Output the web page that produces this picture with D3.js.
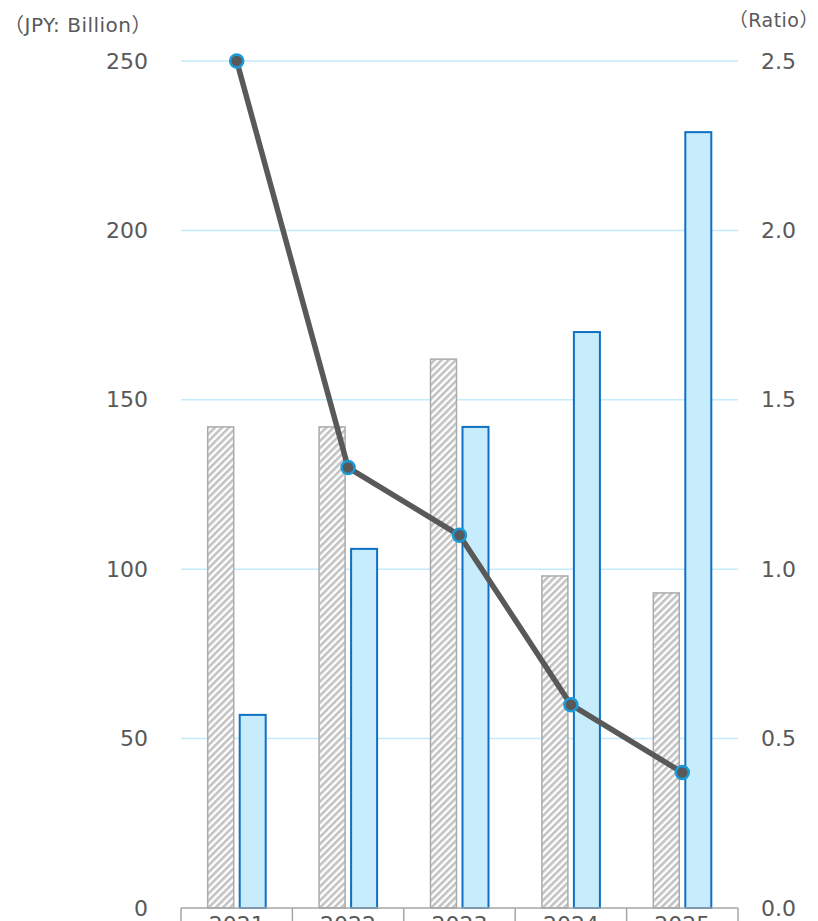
<!DOCTYPE html>
<html>
<head>
<meta charset="utf-8">
<script src="https://cdn.jsdelivr.net/npm/d3@7/dist/d3.min.js"></script>
<style>
  html, body { margin: 0; padding: 0; background: #fff; }
  svg { display: block; }
  text { font-family: "DejaVu Sans", "Noto Sans CJK JP", sans-serif; fill: #595959; }
  .cjk { font-family: "Noto Sans CJK JP", sans-serif; }
</style>
</head>
<body>
<svg id="chart" width="818" height="921"></svg>
<script>
// Fiscal years on the category axis
const years = ["2021", "2022", "2023", "2024", "2025"];
// Series keys for the grouped bars
const seriesKeys = ["hatched", "filled"];
// Bar values, JPY billion
const hatchedValues = [142, 142, 162, 98, 93];
const filledValues = [57, 106, 142, 170, 229];
// Ratio plotted on the right axis
const ratioValues = [2.5, 1.3, 1.1, 0.6, 0.4];
// Axis ticks
const leftTicks = [0, 50, 100, 150, 200, 250];
const rightTicks = [0, 0.5, 1.0, 1.5, 2.0, 2.5];
const leftUnit = "JPY: Billion";
const rightUnit = "Ratio";

const svg = d3.select("#chart");
const plot = { left: 181, right: 738, top: 61, bottom: 908 };

const x = d3.scaleBand().domain(years).range([plot.left, plot.right]).padding(0);
const groupWidth = 58;
const xInner = d3.scaleBand()
  .domain(seriesKeys)
  .range([(x.bandwidth() - groupWidth) / 2, (x.bandwidth() + groupWidth) / 2])
  .paddingInner(0.1875);
const yLeft = d3.scaleLinear().domain([0, 250]).range([plot.bottom, plot.top]);
const yRight = d3.scaleLinear().domain([0, 2.5]).range([plot.bottom, plot.top]);

// Diagonal hatch fill
const defs = svg.append("defs");
const pat = defs.append("pattern")
  .attr("id", "hatch")
  .attr("patternUnits", "userSpaceOnUse")
  .attr("width", 5).attr("height", 5)
  .attr("patternTransform", "rotate(45)");
pat.append("rect").attr("width", 5).attr("height", 5).attr("fill", "#ffffff");
pat.append("rect").attr("x", 0).attr("width", 2.6).attr("height", 5).attr("fill", "#c2c2c2");

// Horizontal gridlines
svg.append("g")
  .selectAll("line")
  .data(leftTicks.filter(d => d > 0))
  .join("line")
  .attr("x1", plot.left).attr("x2", plot.right)
  .attr("y1", d => yLeft(d)).attr("y2", d => yLeft(d))
  .attr("stroke", "#c3ebfa").attr("stroke-width", 1.5);

// Left axis labels
const leftAxis = d3.axisLeft(yLeft).tickValues(leftTicks).tickSize(0).tickPadding(0).tickFormat(d3.format("d"));
const gL = svg.append("g").attr("transform", "translate(148,0)").call(leftAxis);
gL.select(".domain").remove();
gL.selectAll("text").attr("font-size", 22).attr("fill", "#595959")
  .attr("font-family", "'DejaVu Sans', sans-serif");

// Right axis labels
const rightAxis = d3.axisRight(yRight).tickValues(rightTicks).tickSize(0).tickPadding(0).tickFormat(d3.format(".1f"));
const gR = svg.append("g").attr("transform", "translate(761,0)").call(rightAxis);
gR.select(".domain").remove();
gR.selectAll("text").attr("font-size", 22).attr("fill", "#595959")
  .attr("font-family", "'DejaVu Sans', sans-serif");

// Unit captions with full-width brackets
function unitLabel(xPos, yPos, anchor, size, label) {
  const t = svg.append("text").attr("x", xPos).attr("y", yPos)
    .attr("text-anchor", anchor).attr("font-size", size)
    .attr("letter-spacing", 0.5);
  t.append("tspan").attr("class", "cjk").text("（");
  t.append("tspan").text(label);
  t.append("tspan").attr("class", "cjk").text("）");
}
unitLabel(4, 32, "start", 20, leftUnit);
unitLabel(819, 27, "end", 19, rightUnit);

// Bars
const groups = svg.append("g")
  .selectAll("g")
  .data(years.map((y, i) => ({ year: y, hatched: hatchedValues[i], filled: filledValues[i] })))
  .join("g")
  .attr("transform", d => `translate(${x(d.year)},0)`);

groups.append("rect")
  .attr("x", xInner("hatched"))
  .attr("width", xInner.bandwidth())
  .attr("y", d => yLeft(d.hatched))
  .attr("height", d => yLeft(0) - yLeft(d.hatched))
  .attr("fill", "url(#hatch)")
  .attr("stroke", "#ababab").attr("stroke-width", 1.5);

groups.append("rect")
  .attr("x", xInner("filled"))
  .attr("width", xInner.bandwidth())
  .attr("y", d => yLeft(d.filled))
  .attr("height", d => yLeft(0) - yLeft(d.filled))
  .attr("fill", "#c7edfc")
  .attr("stroke", "#0f70c4").attr("stroke-width", 2);

// Category axis: baseline with cell dividers
const gx = svg.append("g");
gx.append("line")
  .attr("x1", plot.left).attr("x2", plot.right)
  .attr("y1", plot.bottom).attr("y2", plot.bottom)
  .attr("stroke", "#a6a6a6").attr("stroke-width", 1.5);
gx.selectAll("line.div")
  .data(years.map(y => x(y)).concat([x(years[years.length - 1]) + x.bandwidth()]))
  .join("line").attr("class", "div")
  .attr("x1", d => d).attr("x2", d => d)
  .attr("y1", plot.bottom).attr("y2", 940)
  .attr("stroke", "#a6a6a6").attr("stroke-width", 1.5);
gx.selectAll("text")
  .data(years)
  .join("text")
  .attr("x", d => x(d) + x.bandwidth() / 2)
  .attr("y", 932)
  .attr("text-anchor", "middle")
  .attr("font-size", 22)
  .text(d => d);

// Ratio line
const pts = years.map((y, i) => [x(y) + x.bandwidth() / 2, yRight(ratioValues[i])]);
svg.append("path")
  .attr("d", d3.line()(pts))
  .attr("fill", "none")
  .attr("stroke", "#595959").attr("stroke-width", 5.5)
  .attr("stroke-linejoin", "round");
svg.append("g")
  .selectAll("circle")
  .data(ratioValues)
  .join("circle")
  .attr("cx", (d, i) => x(years[i]) + x.bandwidth() / 2)
  .attr("cy", d => yRight(d))
  .attr("r", 6.5)
  .attr("fill", "#595959")
  .attr("stroke", "#1a9ad9").attr("stroke-width", 2.5);
</script>
</body>
</html>
